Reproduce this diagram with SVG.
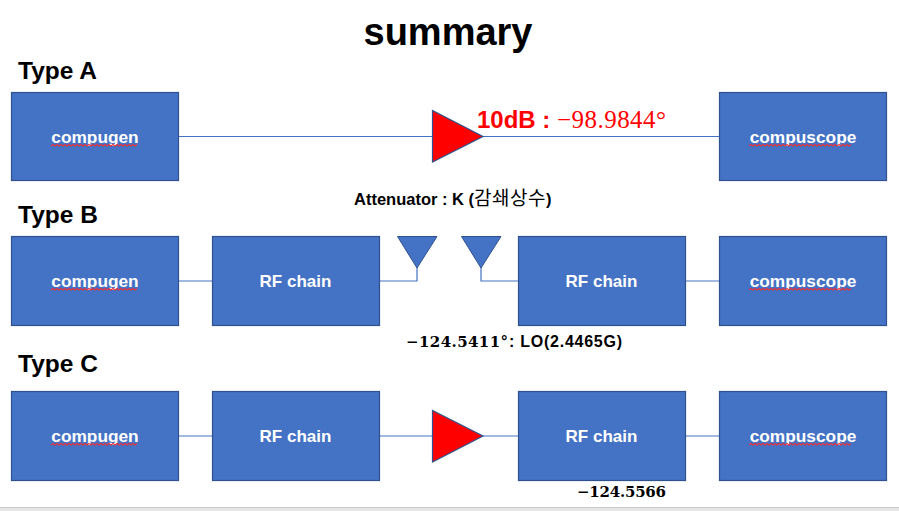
<svg xmlns="http://www.w3.org/2000/svg" width="899" height="511" viewBox="0 0 899 511">
<defs>
<style>
.b{fill:#4472c4;stroke:#2f528f;stroke-width:1.2}
.l{fill:#fff;font:bold 17.300px "Liberation Sans",Arial,sans-serif;text-anchor:middle}
.r{fill:#fff;font:bold 17px "Liberation Sans",Arial,sans-serif;text-anchor:middle}
.c{stroke:#4472c4;stroke-width:1.2;fill:none}
.t{fill:#000;font:bold 24.500px "Liberation Sans",Arial,sans-serif}
.tri{fill:#f00;stroke:#2f528f;stroke-width:1.2}
.ant{fill:#4472c4;stroke:#2f528f;stroke-width:1}
.m{font-family:"DejaVu Serif","Liberation Serif",serif}
.blk{fill:#000;font:bold 16px "Liberation Sans",Arial,"Noto Sans CJK KR",sans-serif}
.sq{fill:none;stroke:#e8323c;stroke-width:1.100}
</style>
<path id="sq88" class="sq" d="M0 1.500l2 -1.500l2 1.500l2 -1.500l2 1.500l2 -1.500l2 1.500l2 -1.500l2 1.500l2 -1.500l2 1.500l2 -1.500l2 1.500l2 -1.500l2 1.500l2 -1.500l2 1.500l2 -1.500l2 1.500l2 -1.500l2 1.500l2 -1.500l2 1.500l2 -1.500l2 1.500l2 -1.500l2 1.500l2 -1.500l2 1.500l2 -1.500l2 1.500l2 -1.500l2 1.500l2 -1.500l2 1.500l2 -1.500l2 1.500l2 -1.500l2 1.500l2 -1.500l2 1.500l2 -1.500l2 1.500l2 -1.500"/>
<path id="sq108" class="sq" d="M0 1.500l2 -1.500l2 1.500l2 -1.500l2 1.500l2 -1.500l2 1.500l2 -1.500l2 1.500l2 -1.500l2 1.500l2 -1.500l2 1.500l2 -1.500l2 1.500l2 -1.500l2 1.500l2 -1.500l2 1.500l2 -1.500l2 1.500l2 -1.500l2 1.500l2 -1.500l2 1.500l2 -1.500l2 1.500l2 -1.500l2 1.500l2 -1.500l2 1.500l2 -1.500l2 1.500l2 -1.500l2 1.500l2 -1.500l2 1.500l2 -1.500l2 1.500l2 -1.500l2 1.500l2 -1.500l2 1.500l2 -1.500l2 1.500l2 -1.500l2 1.500l2 -1.500l2 1.500l2 -1.500l2 1.500l2 -1.500"/>
</defs>
<rect width="899" height="511" fill="#fff"/>
<rect x="0" y="507" width="899" height="4" fill="#e6e6e6"/>
<rect x="0" y="507" width="899" height="1" fill="#c8c8c8"/>
<text x="448" y="45" text-anchor="middle" style="font:bold 38px 'Liberation Sans',Arial,sans-serif">summary</text>
<text class="t" x="18" y="79">Type A</text>
<text class="t" x="18" y="223">Type B</text>
<text class="t" x="18" y="372">Type C</text>
<g id="connectors">
<path class="c" d="M179 136.500H432M483 136.500H719"/>
<path class="c" d="M179 281H212M380 281H417V267M481 267V281H518M686 281H719"/>
<path class="c" d="M179 436H212M380 436H432M483 436H518M686 436H719"/>
</g>
<g id="a-compugen"><rect class="b" x="11.500" y="92.500" width="167" height="88"/><text class="l" x="95" y="143">compugen</text><use href="#sq88" x="51" y="144.500"/></g>
<g id="a-amp"><path class="tri" d="M432.500 110.500V162L483 136.500Z"/></g>
<g id="a-compuscope"><rect class="b" x="719.500" y="92.500" width="167" height="88"/><text class="l" x="803" y="143">compuscope</text><use href="#sq108" x="749" y="144.500"/></g>
<g id="a-label"><text x="477" y="128" style="font:bold 24px 'Liberation Sans',Arial,sans-serif" fill="#f00">10dB :</text><text x="557" y="128" font-family="Liberation Serif,serif" font-size="25" fill="#f00" textLength="109">−98.9844°</text></g>
<g id="attenuator-label"><text class="blk" x="354" y="205" style="font-size:16.500px">Attenuator : K (<tspan font-weight="normal" font-size="19" letter-spacing="0.500" font-family="Noto Sans CJK KR,sans-serif">감쇄상수</tspan>)</text></g>
<g id="b-compugen"><rect class="b" x="11.500" y="236.500" width="167" height="89"/><text class="l" x="95" y="287">compugen</text><use href="#sq88" x="51" y="288.500"/></g>
<g id="b-rf1"><rect class="b" x="212.500" y="236.500" width="167" height="89"/><text class="r" x="295.500" y="287">RF chain</text></g>
<g id="b-ant1"><path class="ant" d="M397.500 236.500H437L417 268Z"/></g>
<g id="b-ant2"><path class="ant" d="M461.500 236.500H501L481 268Z"/></g>
<g id="b-rf2"><rect class="b" x="518.500" y="236.500" width="167" height="89"/><text class="r" x="601.500" y="287">RF chain</text></g>
<g id="b-compuscope"><rect class="b" x="719.500" y="236.500" width="167" height="89"/><text class="l" x="803" y="287">compuscope</text><use href="#sq108" x="749" y="288.500"/></g>
<g id="b-label"><text class="m" x="406" y="347" font-size="15" font-weight="bold" textLength="102">−124.5411°</text><text class="blk" x="509" y="347" textLength="113">: LO(2.4465G)</text></g>
<g id="c-compugen"><rect class="b" x="11.500" y="391.500" width="167" height="89"/><text class="l" x="95" y="442">compugen</text><use href="#sq88" x="51" y="443.500"/></g>
<g id="c-rf1"><rect class="b" x="212.500" y="391.500" width="167" height="89"/><text class="r" x="295.500" y="442">RF chain</text></g>
<g id="c-amp"><path class="tri" d="M432.500 410.500V462L483 436Z"/></g>
<g id="c-rf2"><rect class="b" x="518.500" y="391.500" width="167" height="89"/><text class="r" x="601.500" y="442">RF chain</text></g>
<g id="c-compuscope"><rect class="b" x="719.500" y="391.500" width="167" height="89"/><text class="l" x="803" y="442">compuscope</text><use href="#sq108" x="749" y="443.500"/></g>
<g id="c-label"><text class="m" x="577" y="497" font-size="15" font-weight="bold" textLength="89">−124.5566</text></g>
</svg>
